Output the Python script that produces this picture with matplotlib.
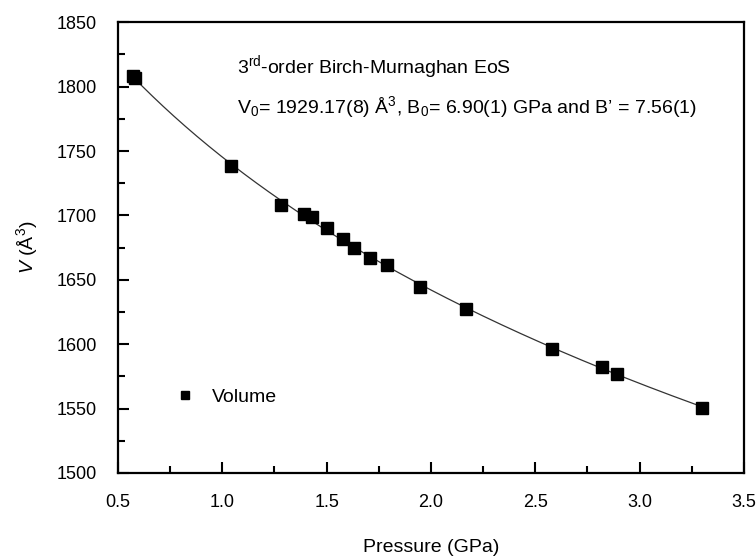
import matplotlib
matplotlib.use("Agg")
import matplotlib.pyplot as plt
import numpy as np

plt.rcParams['font.family'] = ['Liberation Sans', 'DejaVu Sans']
plt.rcParams['mathtext.fontset'] = 'custom'
plt.rcParams['mathtext.rm'] = 'Liberation Sans'
plt.rcParams['mathtext.it'] = 'Liberation Sans:italic'

# measured volumes
pressure = [0.57, 0.58, 1.04, 1.28, 1.39, 1.43, 1.50, 1.58, 1.63, 1.71, 1.79,
            1.95, 2.17, 2.58, 2.82, 2.89, 3.30]
volume = [1808, 1807, 1738.5, 1708, 1701, 1699, 1690, 1682, 1674.5, 1667, 1661.5,
          1644, 1627.5, 1596.5, 1582, 1577, 1550.5]

# fitted 3rd-order Birch-Murnaghan parameters
V0 = 1929.17
B0 = 6.90
Bp = 7.56

xticks = [0.5, 1.0, 1.5, 2.0, 2.5, 3.0, 3.5]
yticks = [1500, 1550, 1600, 1650, 1700, 1750, 1800, 1850]


def bm3(v):
    f = (V0 / v) ** (1.0 / 3.0)
    return 1.5 * B0 * (f ** 7 - f ** 5) * (1 + 0.75 * (Bp - 4) * (f ** 2 - 1))


def main():
    fig = plt.figure(figsize=(7.56, 5.57), dpi=100)
    ax = fig.add_axes([0.156, 0.151, 0.828, 0.809])

    # fit curve over the measured range
    v_fit = np.linspace(max(volume), min(volume), 300)
    ax.plot(bm3(v_fit), v_fit, color='#333333', lw=0.9, zorder=2)

    ax.plot(pressure, volume, 's', color='black', ms=8.5, label='Volume', zorder=3)

    ax.set_xlim(0.5, 3.5)
    ax.set_ylim(1500, 1850)
    ax.set_xticks(xticks)
    ax.set_xticklabels(['%.1f' % t for t in xticks])
    ax.set_yticks(yticks)
    ax.set_xticks(np.arange(0.75, 3.5, 0.5), minor=True)
    ax.set_yticks(np.arange(1525, 1850, 50), minor=True)

    ax.tick_params(which='major', direction='in', length=8, width=1.5,
                   labelsize=13, top=False, right=False)
    ax.tick_params(axis='x', which='major', pad=15)
    ax.tick_params(axis='y', which='major', pad=15)
    ax.tick_params(which='minor', direction='in', length=5, width=1.5,
                   top=False, right=False)
    for s in ax.spines.values():
        s.set_linewidth(1.6)

    ax.set_xlabel('Pressure (GPa)', fontsize=14, labelpad=20)
    ax.set_ylabel(r'$\it{V}$ (Å$^3$)', fontsize=14, labelpad=12)

    ax.text(0.19, 0.90, r'3$^{\rm rd}$-order Birch-Murnaghan EoS',
            transform=ax.transAxes, fontsize=14, va='center')
    ax.text(0.19, 0.811,
            r'V$_0$= 1929.17(8) Å$^3$, B$_0$= 6.90(1) GPa and B’ = 7.56(1)',
            transform=ax.transAxes, fontsize=14, va='center')

    ax.legend(loc='lower left', bbox_to_anchor=(0.06, 0.11), frameon=False,
              fontsize=14, markerscale=0.7, handlelength=1.2, handletextpad=0.8)

    fig.savefig('out.png', dpi=100)


if __name__ == "__main__":
    main()
